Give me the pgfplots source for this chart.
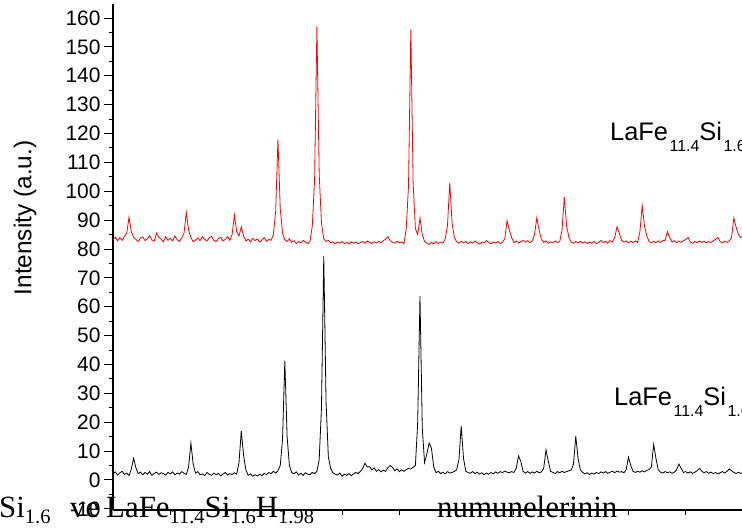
\documentclass[border=0pt]{standalone}
\usepackage{pgfplots}
\pgfplotsset{compat=1.18}
\usepackage{pgfplotstable}
\usepackage{fontspec}
\setmainfont{Liberation Sans}
\newfontfamily\tnr{Liberation Serif}
\newcommand{\asub}[1]{\hspace{1.5bp}\raisebox{-10.5bp}{\fontsize{16}{16}\selectfont #1}}
\newcommand{\tsub}[1]{\raisebox{-6.5bp}{\fontsize{20.5}{20.5}\selectfont #1}}
\pgfplotstableread{
x r b
20.0 83.2 2.1
20.2 84.1 2.8
20.4 82.8 1.7
20.6 83.9 2.5
20.8 83.0 3.0
21.0 84.4 1.9
21.2 85.5 2.4
21.4 91.0 1.5
21.6 86.0 3.8
21.8 84.0 7.5
22.0 83.3 4.2
22.2 82.6 2.2
22.4 83.8 2.7
22.6 84.2 1.8
22.8 82.9 2.6
23.0 83.5 2.0
23.2 84.6 2.9
23.4 83.1 1.6
23.6 82.7 2.3
23.8 85.5 2.7
24.0 84.0 1.9
24.2 83.4 2.5
24.4 82.5 2.2
24.6 84.3 1.7
24.8 83.0 2.6
25.0 83.7 2.1
25.2 82.8 2.8
25.4 84.5 1.8
25.6 83.2 2.4
25.8 82.6 2.0
26.0 83.9 2.9
26.2 85.5 2.3
26.4 92.7 1.9
26.6 86.5 4.5
26.8 84.0 12.8
27.0 82.5 5.5
27.2 83.1 2.4
27.4 83.8 2.9
27.6 82.9 1.8
27.8 84.2 2.1
28.0 83.4 1.5
28.2 82.7 2.6
28.4 83.9 2.0
28.6 84.4 1.6
28.8 83.0 2.4
29.0 82.6 1.8
29.2 83.6 2.3
29.4 84.0 1.4
29.6 82.8 2.0
29.8 83.3 2.6
30.0 84.3 1.7
30.2 83.0 2.2
30.4 85.0 1.9
30.6 91.8 2.5
30.8 86.0 2.0
31.0 84.5 6.0
31.2 87.7 17.0
31.4 84.5 8.5
31.6 82.8 3.5
31.8 83.4 1.6
32.0 82.5 2.1
32.2 83.7 1.3
32.4 82.9 1.8
32.6 83.5 1.4
32.8 82.4 2.0
33.0 83.1 1.5
33.2 84.0 2.3
33.4 82.7 1.9
33.6 83.3 2.6
33.8 83.0 2.2
34.0 85.0 3.0
34.2 93.0 2.4
34.4 118.0 3.2
34.6 94.0 5.0
34.8 85.5 14.0
35.0 83.2 41.3
35.2 82.6 15.0
35.4 83.5 5.0
35.6 82.3 2.6
35.8 82.9 2.1
36.0 81.9 2.8
36.2 82.6 1.7
36.4 82.1 2.3
36.6 83.0 1.6
36.8 82.4 2.5
37.0 81.8 2.0
37.2 82.7 1.8
37.4 88.0 2.6
37.6 104.0 2.2
37.8 157.0 3.0
38.0 106.0 7.0
38.2 89.0 25.0
38.4 83.5 77.5
38.6 82.6 27.0
38.8 83.0 8.0
39.0 82.1 4.0
39.2 82.5 2.5
39.4 81.8 2.0
39.6 82.4 1.7
39.8 82.0 2.4
40.0 82.6 1.3
40.2 81.9 2.0
40.4 82.3 1.6
40.6 81.7 2.2
40.8 82.5 1.5
41.0 82.0 2.1
41.2 82.4 2.6
41.4 81.8 2.2
41.6 82.2 3.0
41.8 82.6 4.0
42.0 82.0 5.8
42.2 82.8 4.5
42.4 82.3 4.6
42.6 81.9 3.5
42.8 82.5 4.2
43.0 82.1 3.0
43.2 82.6 3.6
43.4 82.2 2.8
43.6 82.9 3.4
43.8 83.4 3.0
44.0 84.3 4.3
44.2 82.9 5.0
44.4 82.3 4.4
44.6 82.0 3.2
44.8 82.7 3.8
45.0 82.1 2.9
45.2 82.5 3.5
45.4 81.8 3.0
45.6 87.0 3.6
45.8 102.0 4.0
46.0 156.0 3.8
46.2 103.0 4.4
46.4 87.0 5.0
46.6 85.0 20.0
46.8 90.7 63.7
47.0 85.0 18.0
47.2 82.6 6.0
47.4 82.0 9.0
47.6 81.6 12.8
47.8 82.3 11.0
48.0 81.8 4.5
48.2 82.5 2.5
48.4 81.9 3.0
48.6 82.4 2.2
48.8 82.0 2.7
49.0 83.5 2.1
49.2 88.0 2.9
49.4 103.0 2.4
49.6 89.0 2.6
49.8 84.0 3.0
50.0 82.5 3.5
50.2 82.0 7.0
50.4 82.7 18.7
50.6 82.1 7.5
50.8 82.6 3.0
51.0 81.9 2.6
51.2 82.5 2.3
51.4 82.0 2.9
51.6 82.8 2.2
51.8 82.2 2.7
52.0 81.7 2.0
52.2 82.4 2.5
52.4 82.1 1.8
52.6 82.9 2.4
52.8 82.3 2.0
53.0 81.8 2.6
53.2 82.5 2.1
53.4 82.0 2.8
53.6 82.6 2.3
53.8 81.9 2.9
54.0 82.4 2.5
54.2 83.5 3.1
54.4 89.8 2.7
54.6 86.5 2.5
54.8 84.0 2.9
55.0 82.2 2.6
55.2 82.7 4.0
55.4 82.1 8.3
55.6 82.5 6.5
55.8 83.0 3.0
56.0 82.4 2.4
56.2 82.9 2.9
56.4 82.2 2.3
56.6 82.7 2.8
56.8 85.0 2.4
57.0 90.8 3.0
57.2 86.5 2.5
57.4 83.4 2.8
57.6 82.3 4.0
57.8 82.8 10.4
58.0 82.0 6.5
58.2 82.5 3.0
58.4 82.1 2.6
58.6 82.8 2.2
58.8 82.2 2.9
59.0 82.6 2.5
59.2 86.5 3.0
59.4 98.0 2.6
59.6 88.0 2.9
59.8 84.0 3.2
60.0 82.4 3.4
60.2 82.0 5.5
60.4 82.6 15.2
60.6 82.1 7.5
60.8 82.7 3.5
61.0 82.0 2.6
61.2 82.5 2.1
61.4 81.9 2.5
61.6 82.4 1.9
61.8 82.0 2.4
62.0 82.6 2.0
62.2 81.8 2.6
62.4 82.3 2.2
62.6 83.0 2.8
62.8 82.2 2.4
63.0 82.7 2.9
63.2 82.0 2.3
63.4 82.9 2.7
63.6 82.4 3.0
63.8 84.0 2.5
64.0 87.7 3.1
64.2 85.5 2.7
64.4 83.0 2.9
64.6 82.4 2.5
64.8 82.8 3.5
65.0 82.1 7.9
65.2 82.7 5.0
65.4 82.2 3.0
65.6 82.8 2.6
65.8 82.3 3.0
66.0 86.0 2.7
66.2 95.0 3.2
66.4 88.0 2.8
66.6 84.5 3.3
66.8 82.6 3.6
67.0 82.1 4.5
67.2 82.7 12.3
67.4 82.2 7.5
67.6 82.8 3.5
67.8 82.3 2.7
68.0 82.9 2.4
68.2 83.0 2.9
68.4 86.0 2.5
68.6 84.0 2.8
68.8 82.4 2.3
69.0 82.9 2.7
69.2 82.2 3.5
69.4 82.7 5.5
69.6 82.3 4.0
69.8 82.9 2.6
70.0 83.3 2.9
70.2 84.0 2.4
70.4 82.5 2.8
70.6 82.0 2.3
70.8 82.6 2.7
71.0 82.2 3.2
71.2 82.8 4.0
71.4 82.3 3.1
71.6 82.7 2.5
71.8 82.1 2.9
72.0 82.6 2.3
72.2 82.2 2.7
72.4 82.9 2.2
72.6 83.3 2.6
72.8 84.0 2.1
73.0 82.6 2.5
73.2 82.1 2.9
73.4 82.7 2.4
73.6 82.3 3.0
73.8 82.8 3.8
74.0 84.0 3.2
74.2 90.7 2.6
74.4 87.5 2.2
74.6 85.0 2.7
74.8 84.0 2.3
75.0 84.5 2.6
}\xrd

\begin{document}
\begin{tikzpicture}
\useasboundingbox (0,0) rectangle (742bp,530bp);
\begin{axis}[
  at={(113bp,20bp)}, anchor=south west,
  scale only axis, width=630bp, height=506.4bp,
  xmin=20, xmax=75, ymin=-10.4, ymax=165,
  axis lines=left, axis line style={-, line width=1.3bp},
  xtick={25,30,...,75}, xticklabels={},
  ytick={-10,0,...,160}, minor y tick num=1,
  tick align=outside,
  major tick length=9bp, minor tick length=4.5bp,
  xtick style={/pgfplots/major tick length=4.5bp, line width=1bp, black},
  ytick style={line width=1bp, black},
  minor y tick style={line width=1bp, black},
  yticklabel style={font=\fontsize{21}{21}\selectfont},
  /pgf/number format/assume math mode=true,
]
\addplot[red, line width=0.8bp] table[x=x, y=r] {\xrd};
\addplot[black, line width=0.8bp] table[x=x, y=b] {\xrd};
\end{axis}
\node[rotate=90, font=\fontsize{24.5}{24.5}\selectfont] at (25bp,312bp) {Intensity (a.u.)};
\node[anchor=base west, inner sep=0pt, font=\fontsize{25.5}{25.5}\selectfont] at (610bp,389bp) {LaFe\asub{11.4}Si\asub{1.6}H\asub{1.98}};
\node[anchor=base west, inner sep=0pt, font=\fontsize{25.5}{25.5}\selectfont] at (614bp,124bp) {LaFe\asub{11.4}Si\asub{1.6}};
\node[anchor=base west, inner sep=0pt, font=\tnr\fontsize{31}{31}\selectfont] at (-1bp,13bp) {Si\tsub{1.6}};
\node[anchor=base west, inner sep=0pt, font=\tnr\fontsize{31}{31}\selectfont] at (70bp,13bp) {ve};
\node[anchor=base west, inner sep=0pt, font=\tnr\fontsize{31}{31}\selectfont] at (106bp,13bp) {LaFe\tsub{11.4}Si\tsub{1.6}H\tsub{1.98}};
\node[anchor=base west, inner sep=0pt, font=\tnr\fontsize{31}{31}\selectfont] at (437bp,13bp) {numunelerinin};
\end{tikzpicture}
\end{document}
